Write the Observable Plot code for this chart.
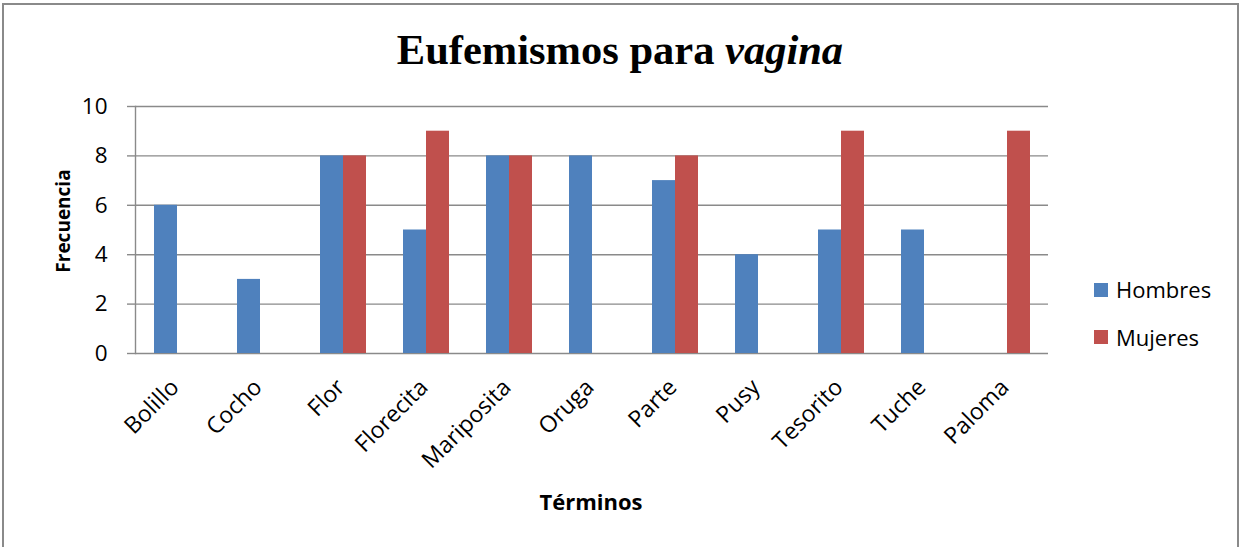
<!DOCTYPE html>
<html><head><meta charset="utf-8">
<script src="https://cdn.jsdelivr.net/npm/d3@7"></script>
<script src="https://cdn.jsdelivr.net/npm/@observablehq/plot@0.6"></script>
<style>
html,body{margin:0;padding:0;background:#fff;overflow:hidden;}
#chart{position:relative;width:1240px;height:547px;font-family:"Open Sans",sans-serif;color:#000;}
#border{position:absolute;left:2px;top:3px;width:1237px;height:600px;border:2px solid #8a8a8a;box-sizing:border-box;}
#title{position:absolute;left:0;top:0;width:1240px;height:90px;box-sizing:border-box;padding-top:29px;text-align:center;font-family:"Liberation Serif","Times New Roman",serif;font-weight:bold;font-size:42.5px;line-height:42.5px;white-space:nowrap;}
#plot{position:absolute;left:0;top:90px;}
#ylab{position:absolute;width:200px;height:24px;left:-37px;top:209px;line-height:24px;text-align:center;font-weight:bold;font-size:19px;transform:rotate(-90deg);}
#xlab{position:absolute;left:391px;top:489.5px;width:400px;line-height:22px;text-align:center;font-weight:bold;font-size:22px;}
.lg-sw{position:absolute;left:1094px;width:14px;height:14.5px;}
.lg-tx{position:absolute;left:1116px;font-size:22px;line-height:22px;white-space:nowrap;}
</style>
</head><body>
<div id="chart">
  <div id="border"></div>
  <div id="title">Eufemismos para <i>vagina</i></div>
  <div id="plot"></div>
  <div id="ylab"></div>
  <div id="xlab"></div>
  <div id="legend"></div>
</div>
<script>
const terms = ["Bolillo", "Cocho", "Flor", "Florecita", "Mariposita", "Oruga", "Parte", "Pusy", "Tesorito", "Tuche", "Paloma"];
const series = ["Hombres", "Mujeres"];
const hombres = [6, 3, 8, 5, 8, 8, 7, 4, 5, 5, 0];
const mujeres = [0, 0, 8, 9, 8, 0, 8, 0, 9, 0, 9];
const colors = ["#4F81BD", "#C0504D"];
const yTicks = [0, 2, 4, 6, 8, 10];
const yTitle = "Frecuencia";
const xTitle = "Términos";

const rows = [];
terms.forEach((t, i) => {
  rows.push({term: t, sex: series[0], value: hombres[i]});
  rows.push({term: t, sex: series[1], value: mujeres[i]});
});

const grid = "#8a8a8a";

const chart = Plot.plot({
  width: 1240,
  height: 457,
  marginLeft: 131,
  marginRight: 189,
  marginTop: 16,
  marginBottom: 194,
  style: {fontFamily: "'Open Sans', sans-serif", fontSize: "20px", background: "transparent", color: "#000"},
  fx: {domain: terms, padding: 0},
  x: {domain: series, paddingInner: 0, paddingOuter: 0.75, axis: null},
  y: {domain: [0, 10]},
  color: {domain: series, range: colors},
  marks: [
    Plot.gridY(yTicks, {stroke: grid, strokeOpacity: 1, strokeWidth: 1.4}),
    Plot.frame({anchor: "left", facetAnchor: "left", stroke: grid, strokeWidth: 1.4}),
    Plot.barY(rows, {fx: "term", x: "sex", y: "value", fill: "sex"}),
    Plot.axisY(yTicks, {tickSize: 8, tickPadding: 20, stroke: grid, strokeWidth: 1.4, fontSize: 22.5, label: null}),
    Plot.axisFx({anchor: "bottom", tickRotate: -45, tickSize: 0, tickPadding: 30, dx: -2, fontSize: 23, label: null})
  ]
});
document.getElementById("plot").appendChild(chart);

document.getElementById("ylab").textContent = yTitle;
document.getElementById("xlab").textContent = xTitle;

const legend = document.getElementById("legend");
const swTops = [282.5, 329.5];
const txTops = [277.5, 325.5];
series.forEach((s, i) => {
  const sw = document.createElement("div");
  sw.className = "lg-sw";
  sw.style.top = swTops[i] + "px";
  sw.style.background = colors[i];
  legend.appendChild(sw);
  const tx = document.createElement("div");
  tx.className = "lg-tx";
  tx.style.top = txTops[i] + "px";
  tx.textContent = s;
  legend.appendChild(tx);
});
</script>
</body></html>
